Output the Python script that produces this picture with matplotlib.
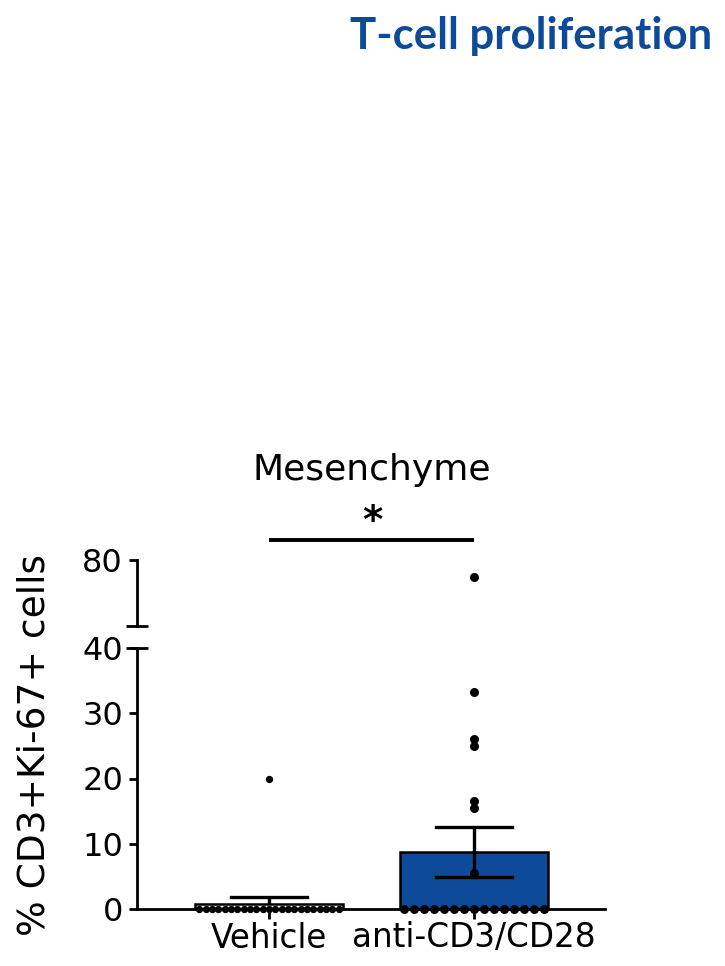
import numpy as np
import matplotlib
matplotlib.use("Agg")
import matplotlib.pyplot as plt

# ---- data ----
categories = ["Vehicle", "anti-CD3/CD28"]
means = [0.8, 8.75]
sems = [1.1, 3.85]
vehicle_points = [20.0] + [0.0] * 23
anti_points = [70.0, 33.3, 26.0, 25.0, 16.5, 15.5, 5.5] + [0.0] * 15
yticks_lower = [0, 10, 20, 30, 40]
yticks_upper = [80]

blue = "#0E4A9A"
plt.rcParams['font.family'] = ['DejaVu Sans']

fig = plt.figure(figsize=(7.25, 9.66), dpi=100)
left, width = 137 / 725, (605 - 137) / 725
axL = fig.add_axes([left, 1 - 909 / 966, width, (909 - 648) / 966])
axU = fig.add_axes([left, 1 - 626 / 966, width, (626 - 560) / 966])

xlim = (-0.644, 1.639)
barw = 0.72
capw = 0.375
lw_axis = 2.0
brk = 40

def swarm(points, xc):
    pts = np.asarray(points)
    zeros = np.where(pts == 0)[0]
    xs = np.full(len(pts), float(xc))
    if len(zeros) > 1:
        xs[zeros] = xc + np.linspace(-barw / 2 + 0.02, barw / 2 - 0.02, len(zeros))
    return xs, pts

for ax in (axL, axU):
    ax.set_xlim(*xlim)
    for i, (m, s) in enumerate(zip(means, sems)):
        ax.bar(i, m, width=barw, color=("white" if i == 0 else blue),
               edgecolor="black", linewidth=1.8, zorder=2)
        ax.plot([i, i], [m, m + s], color="black", lw=2.4, zorder=3, solid_capstyle="butt")
        ax.plot([i - capw / 2, i + capw / 2], [m + s, m + s], color="black", lw=2.4, zorder=3)
        if m - s > 0:
            ax.plot([i, i], [m - s, m], color="black", lw=2.4, zorder=3)
            ax.plot([i - capw / 2, i + capw / 2], [m - s, m - s], color="black", lw=2.4, zorder=3)
    for pts, xc, sz in ((vehicle_points, 0, 18), (anti_points, 1, 30)):
        xs, ys = swarm(pts, xc)
        sel = ys <= brk if ax is axL else ys > brk
        ax.scatter(xs[sel], ys[sel], s=sz, color="black", zorder=4, clip_on=False)
    for sp in ["top", "right"]:
        ax.spines[sp].set_visible(False)
    ax.spines["left"].set_linewidth(lw_axis)
    ax.spines["bottom"].set_linewidth(lw_axis)
    ax.tick_params(axis="both", width=lw_axis, length=6, labelsize=23, pad=4)

axL.set_ylim(0, 40)
axL.set_yticks(yticks_lower)
axL.set_xticks([0, 1])
axL.set_xticklabels(categories, fontsize=23.5)
axL.tick_params(axis="x", length=7, pad=2)

axU.set_ylim(40, 80)
axU.set_yticks(yticks_upper)
axU.spines["bottom"].set_visible(False)
axU.set_xticks([])

# break marks
for ax in (axU, axL):
    ax.plot([-0.023, 0.023], [brk, brk], transform=ax.get_yaxis_transform(),
            color="black", lw=lw_axis, clip_on=False, solid_capstyle="butt")

# significance
axU.plot([0, 1], [92.2, 92.2], color="black", lw=2.8, clip_on=False, solid_capstyle="butt")
fig.text(372 / 725, 1 - 522 / 966, "*", ha="center", va="center", fontsize=28,
         fontweight="bold")
fig.text(372 / 725, 1 - 470 / 966, "Mesenchyme", ha="center", va="center", fontsize=26)

fig.text(35 / 725, 1 - 745 / 966, "% CD3+Ki-67+ cells", rotation=90,
         ha="center", va="center", fontsize=27)

fig.text(712 / 725, 1 - 36 / 966, "T-cell proliferation", ha="right", va="center",
         fontsize=31.5, fontweight="bold", color=blue, family=["Lato", "DejaVu Sans"])

fig.savefig("out.png", dpi=100)
